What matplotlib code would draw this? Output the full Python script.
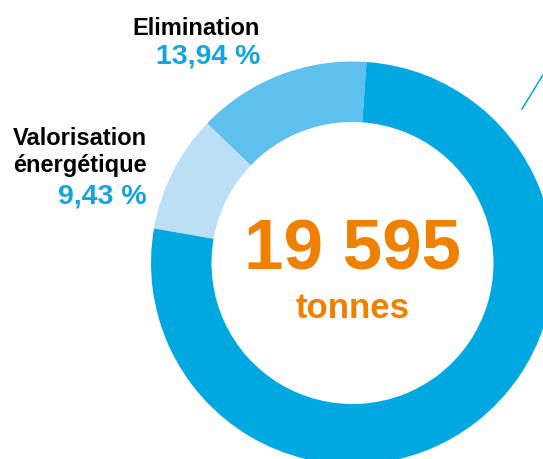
import matplotlib.pyplot as plt

# share of the 19 595 tonnes (first two labelled, rest is the big segment)
labels = ['Elimination', 'Valorisation\nénergétique', 'Autres']
shares = [13.94, 9.43, 76.63]
colors = ['#5ec0ec', '#bddff5', '#00a8e1']
total = '19 595'
unit = 'tonnes'

W, H = 543, 459
fig = plt.figure(figsize=(W / 100, H / 100), dpi=100)
ax = fig.add_axes([0, 0, 1, 1])

# ring, work in pixel-like units with y going up
cx, cy = 352.5, H - 263
r_out, r_in = 201.5, 141
ax.pie(shares, colors=colors, startangle=86, counterclock=True,
       radius=r_out, center=(cx, cy),
       wedgeprops=dict(width=r_out - r_in, linewidth=0))

ax.set_xlim(0, W)
ax.set_ylim(0, H)
ax.set_aspect('equal')
ax.axis('off')

font = 'Liberation Sans'
blue = '#14a5de'
orange = '#f08000'

# labels on the left
ax.text(260, H - 35, labels[0], ha='right', va='baseline', fontsize=17,
        fontweight='bold', family=font, color='black')
ax.text(260, H - 64, f'{shares[0]:.2f} %'.replace('.', ','), ha='right', va='baseline',
        fontsize=20.5, fontweight='bold', family=font, color=blue)

ax.text(147, H - 172, labels[1], ha='right', va='baseline', fontsize=17,
        fontweight='bold', family=font, color='black', linespacing=1.2)
ax.text(147, H - 203, f'{shares[1]:.2f} %'.replace('.', ','), ha='right', va='baseline',
        fontsize=20.5, fontweight='bold', family=font, color=blue)

# total in the middle
ax.text(cx, H - 270, total, ha='center', va='baseline', fontsize=51,
        fontweight='bold', family=font, color=orange)
ax.text(cx, H - 318, unit, ha='center', va='baseline', fontsize=25,
        fontweight='bold', family=font, color=orange)

# leader line of the label cut off at the right
ax.plot([522, 546], [H - 109, H - 70], color='#00a8e1', lw=1.1, clip_on=True)

fig.savefig('out.png', dpi=100)
